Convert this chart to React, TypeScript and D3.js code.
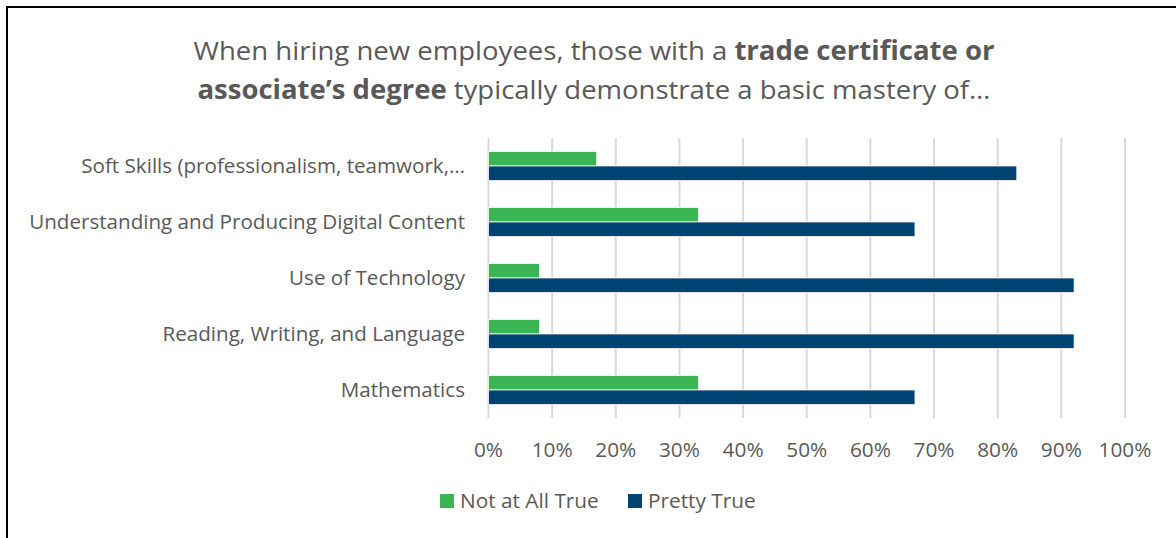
import React from "react";
import * as d3 from "d3";

const categories = [
  "Soft Skills (professionalism, teamwork,…",
  "Understanding and Producing Digital Content",
  "Use of Technology",
  "Reading, Writing, and Language",
  "Mathematics",
];
const notAtAllTrue = [17, 33, 8, 8, 33];
const prettyTrue = [83, 67, 92, 92, 67];
const ticks = [0, 10, 20, 30, 40, 50, 60, 70, 80, 90, 100];
const seriesNames = ["Not at All True", "Pretty True"];
const colors = ["#3BB453", "#004272"];

const W = 1176;
const H = 538;
const FONT = "'Open Sans', 'Noto Sans', sans-serif";
const TEXT = "#595959";

export default function App() {
  const x = d3.scaleLinear().domain([0, 100]).range([488.5, 1125]);
  const y = d3.scaleBand().domain(categories).range([138, 418]).paddingInner(0.48).paddingOuter(0.24);
  const inner = d3.scaleBand().domain(seriesNames).range([0, y.bandwidth()]);
  const series = [notAtAllTrue, prettyTrue];

  return (
    <div style={{ position: "absolute", left: 0, top: 0 }}>
      <svg width={W} height={H} style={{ display: "block" }}>
        <rect x={0} y={0} width={W} height={H} fill="#fff" />
        <line x1={6} y1={7} x2={W} y2={7} stroke="#000" strokeWidth={2} />
        <line x1={7} y1={6} x2={7} y2={H} stroke="#000" strokeWidth={2} />
        <text x={594} y={60} textAnchor="middle" fontFamily={FONT} fontSize={26} fill={TEXT} textLength={801} lengthAdjust="spacingAndGlyphs">
          When hiring new employees, those with a <tspan fontWeight="bold">trade certificate or</tspan>
        </text>
        <text x={594} y={99} textAnchor="middle" fontFamily={FONT} fontSize={26} fill={TEXT} textLength={793} lengthAdjust="spacingAndGlyphs">
          <tspan fontWeight="bold">associate’s degree</tspan> typically demonstrate a basic mastery of…
        </text>
        {ticks.map((t) => (
          <line key={t} x1={x(t)} x2={x(t)} y1={138} y2={418} stroke="#d9d9d9" strokeWidth={2} />
        ))}
        {categories.map((c, i) =>
          series.map((s, j) => (
            <rect
              key={c + j}
              x={x(0)}
              y={(y(c) as number) + (inner(seriesNames[j]) as number)}
              width={x(s[i]) - x(0)}
              height={inner.bandwidth()}
              fill={colors[j]}
              stroke="#fff"
              strokeWidth={0.75}
            />
          ))
        )}
        {categories.map((c) => (
          <text
            key={c}
            x={465}
            y={(y(c) as number) + y.bandwidth() / 2}
            dy="0.35em"
            textAnchor="end"
            fontFamily={FONT}
            fontSize={20.6}
            fill={TEXT}
          >
            {c}
          </text>
        ))}
        {ticks.map((t) => (
          <text key={t} x={x(t)} y={450} dy="0.35em" textAnchor="middle" fontFamily={FONT} fontSize={20.8} fill={TEXT}>
            {t}%
          </text>
        ))}
        {seriesNames.map((n, j) => {
          const lx = j === 0 ? 440 : 628;
          return (
            <g key={n}>
              <rect x={lx} y={494} width={14} height={14} fill={colors[j]} />
              <text x={lx + 20} y={501} dy="0.35em" fontFamily={FONT} fontSize={20.8} fill={TEXT}>
                {n}
              </text>
            </g>
          );
        })}
      </svg>
    </div>
  );
}
